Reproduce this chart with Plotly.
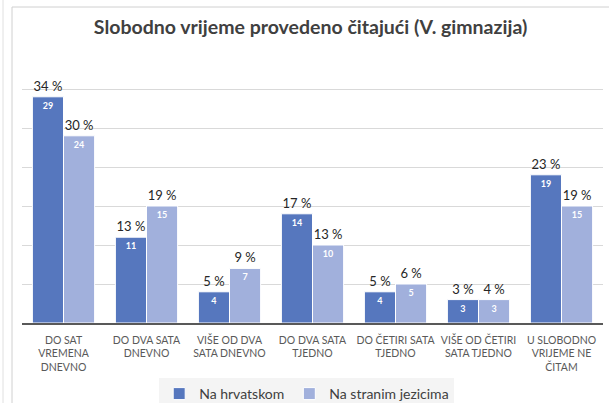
import plotly.graph_objects as go

categories = [
    "DO SAT<br>VREMENA<br>DNEVNO",
    "DO DVA SATA<br>DNEVNO",
    "VIŠE OD DVA<br>SATA DNEVNO",
    "DO DVA SATA<br>TJEDNO",
    "DO ČETIRI SATA<br>TJEDNO",
    "VIŠE OD ČETIRI<br>SATA TJEDNO",
    "U SLOBODNO<br>VRIJEME NE<br>ČITAM",
]
hr_counts = [29, 11, 4, 14, 4, 3, 19]
hr_pct = [34, 13, 5, 17, 5, 3, 23]
strani_counts = [24, 15, 7, 10, 5, 3, 15]
strani_pct = [30, 19, 9, 13, 6, 4, 19]

series_names = ["Na hrvatskom", "Na stranim jezicima"]
colors = ["#5677BE", "#A1B0DC"]

FONT = "Lato"

fig = go.Figure()
for i, (name, counts, pct, col) in enumerate(
    [(series_names[0], hr_counts, hr_pct, colors[0]),
     (series_names[1], strani_counts, strani_pct, colors[1])]):
    grp = str(i)
    fig.add_trace(go.Bar(
        x=categories, y=counts, name=name, offsetgroup=grp,
        marker=dict(color=col, line=dict(color="white", width=1)),
        text=[str(v) for v in counts], textposition="inside",
        insidetextanchor="end",
        textfont=dict(color="white", size=9, family=FONT, weight="bold"),
        hoverinfo="skip",
    ))
    fig.add_trace(go.Bar(
        x=categories, y=counts, name=name + " %", offsetgroup=grp,
        marker=dict(color="rgba(0,0,0,0)", line=dict(width=0)),
        text=[f"{p} %" for p in pct], textposition="outside",
        textfont=dict(color="#262626", size=13, family=FONT),
        showlegend=False, hoverinfo="skip", cliponaxis=False,
    ))

W, H = 609, 403
L, R, T, B = 22, 6, 50, 80
pw = W - L - R
ph = H - T - B

def px_x(px):
    return (px - L) / pw

def px_y(py):
    return (H - B - py) / ph

fig.update_layout(
    width=W, height=H,
    margin=dict(l=L, r=R, t=T, b=B, autoexpand=False),
    paper_bgcolor="white", plot_bgcolor="white",
    barmode="group", bargap=0.25, bargroupgap=0,
    title=dict(text="<b>Slobodno vrijeme provedeno čitajući (V. gimnazija)</b>",
               x=0.51, xanchor="center", y=1 - 27 / H, yanchor="middle",
               yref="container",
               font=dict(family=FONT, size=19.5, color="#404040")),
    font=dict(family=FONT, color="#595959"),
    showlegend=True,
    legend=dict(orientation="h", x=0.49, xanchor="center",
                y=px_y(378), yanchor="top",
                bgcolor="#F4F4F4", font=dict(size=14, color="#404040"),
                itemwidth=30, tracegroupgap=0),
    shapes=[
        dict(type="line", xref="paper", yref="paper",
             x0=px_x(12), x1=px_x(12), y0=px_y(7), y1=px_y(H),
             line=dict(color="#D0D0D0", width=1)),
        dict(type="line", xref="paper", yref="paper",
             x0=px_x(12), x1=px_x(W), y0=px_y(7), y1=px_y(7),
             line=dict(color="#D0D0D0", width=1)),
        dict(type="line", xref="paper", yref="paper",
             x0=px_x(3), x1=px_x(3), y0=px_y(0), y1=px_y(H),
             line=dict(color="#E0E0E0", width=1)),
    ],
)
fig.update_xaxes(
    showgrid=False, showline=True, linecolor="#595959", linewidth=2,
    ticks="", tickfont=dict(size=10.5, color="#595959", family=FONT),
    ticklabelstandoff=6, automargin=False,
)
fig.update_yaxes(
    range=[0, 35], dtick=5, showgrid=True, gridcolor="#D9D9D9", gridwidth=1,
    showticklabels=False, zeroline=False, showline=False, automargin=False,
)

fig.write_html(
    "out.html",
    config={"displayModeBar": False},
    post_script="document.body.style.margin='0';document.body.style.overflow='hidden';",
)
